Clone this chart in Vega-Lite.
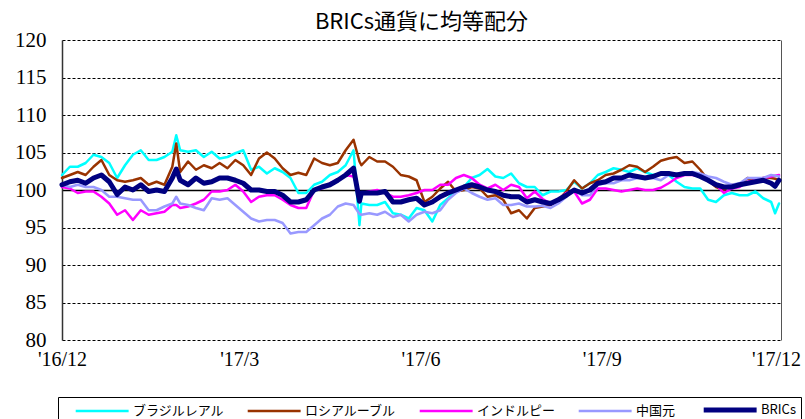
{
  "$schema": "https://vega.github.io/schema/vega-lite/v6.json",
  "width": 719,
  "height": 300,
  "autosize": {"type": "none"},
  "padding": {"left": 62, "top": 40, "right": 24, "bottom": 79},
  "background": "white",
  "title": {"text": "BRICs通貨に均等配分", "font": "Noto Sans CJK JP", "fontSize": 22, "fontWeight": "normal", "color": "black", "anchor": "middle", "offset": -5},
  "config": {"view": {"stroke": null}},
  "data": {"values": [
    {"d":"2016-12-01","ブラジルレアル":102.0,"ロシアルーブル":101.6,"インドルピー":100.4,"中国元":100.7,"BRICs":100.7},
    {"d":"2016-12-05","ブラジルレアル":103.1,"ロシアルーブル":102.0,"インドルピー":100.2,"中国元":100.4,"BRICs":101.1},
    {"d":"2016-12-09","ブラジルレアル":103.1,"ロシアルーブル":102.4,"インドルピー":99.6,"中国元":100.7,"BRICs":101.3},
    {"d":"2016-12-13","ブラジルレアル":103.6,"ロシアルーブル":102.0,"インドルピー":99.8,"中国元":100.4,"BRICs":100.9},
    {"d":"2016-12-17","ブラジルレアル":104.7,"ロシアルーブル":103.1,"インドルピー":99.8,"中国元":100.4,"BRICs":101.6},
    {"d":"2016-12-21","ブラジルレアル":104.4,"ロシアルーブル":104.0,"インドルピー":99.1,"中国元":100.0,"BRICs":102.0},
    {"d":"2016-12-25","ブラジルレアル":103.6,"ロシアルーブル":102.0,"インドルピー":98.2,"中国元":99.1,"BRICs":101.1},
    {"d":"2016-12-29","ブラジルレアル":101.6,"ロシアルーブル":101.3,"インドルピー":96.7,"中国元":99.1,"BRICs":99.4},
    {"d":"2017-01-02","ブラジルレアル":103.3,"ロシアルーブル":101.1,"インドルピー":97.3,"中国元":98.9,"BRICs":100.4},
    {"d":"2017-01-06","ブラジルレアル":104.7,"ロシアルーブル":101.3,"インドルピー":96.0,"中国元":98.7,"BRICs":100.0},
    {"d":"2017-01-10","ブラジルレアル":105.3,"ロシアルーブル":101.6,"インドルピー":97.3,"中国元":98.7,"BRICs":100.7},
    {"d":"2017-01-14","ブラジルレアル":104.0,"ロシアルーブル":100.7,"インドルピー":96.7,"中国元":97.3,"BRICs":99.8},
    {"d":"2017-01-18","ブラジルレアル":104.0,"ロシアルーブル":101.1,"インドルピー":96.9,"中国元":97.3,"BRICs":100.0},
    {"d":"2017-01-22","ブラジルレアル":104.4,"ロシアルーブル":100.7,"インドルピー":97.1,"中国元":97.8,"BRICs":99.8},
    {"d":"2017-01-26","ブラジルレアル":105.1,"ロシアルーブル":103.1,"インドルピー":98.0,"中国元":98.2,"BRICs":101.6},
    {"d":"2017-01-28","ブラジルレアル":107.3,"ロシアルーブル":106.2,"インドルピー":98.0,"中国元":99.1,"BRICs":102.8},
    {"d":"2017-01-30","ブラジルレアル":105.3,"ロシアルーブル":102.4,"インドルピー":97.6,"中国元":98.2,"BRICs":101.3},
    {"d":"2017-02-03","ブラジルレアル":105.1,"ロシアルーブル":103.8,"インドルピー":97.8,"中国元":98.0,"BRICs":100.7},
    {"d":"2017-02-07","ブラジルレアル":105.3,"ロシアルーブル":102.7,"インドルピー":98.2,"中国元":97.6,"BRICs":101.6},
    {"d":"2017-02-11","ブラジルレアル":104.4,"ロシアルーブル":103.3,"インドルピー":98.7,"中国元":97.3,"BRICs":100.9},
    {"d":"2017-02-15","ブラジルレアル":105.1,"ロシアルーブル":102.9,"インドルピー":99.8,"中国元":98.9,"BRICs":101.1},
    {"d":"2017-02-19","ブラジルレアル":104.2,"ロシアルーブル":103.6,"インドルピー":99.8,"中国元":98.7,"BRICs":101.6},
    {"d":"2017-02-23","ブラジルレアル":104.4,"ロシアルーブル":102.9,"インドルピー":100.0,"中国元":98.9,"BRICs":101.6},
    {"d":"2017-02-27","ブラジルレアル":104.9,"ロシアルーブル":104.0,"インドルピー":100.7,"中国元":98.0,"BRICs":101.3},
    {"d":"2017-03-03","ブラジルレアル":105.3,"ロシアルーブル":103.3,"インドルピー":99.8,"中国元":97.1,"BRICs":100.9},
    {"d":"2017-03-07","ブラジルレアル":102.7,"ロシアルーブル":102.0,"インドルピー":98.4,"中国元":96.2,"BRICs":100.0},
    {"d":"2017-03-11","ブラジルレアル":103.1,"ロシアルーブル":104.2,"インドルピー":99.1,"中国元":95.8,"BRICs":100.0},
    {"d":"2017-03-15","ブラジルレアル":102.2,"ロシアルーブル":105.0,"インドルピー":99.3,"中国元":96.0,"BRICs":99.8},
    {"d":"2017-03-19","ブラジルレアル":102.9,"ロシアルーブル":104.2,"インドルピー":99.3,"中国元":96.0,"BRICs":99.8},
    {"d":"2017-03-23","ブラジルレアル":102.4,"ロシアルーブル":102.9,"インドルピー":98.7,"中国元":95.6,"BRICs":99.3},
    {"d":"2017-03-27","ブラジルレアル":101.6,"ロシアルーブル":102.0,"インドルピー":98.0,"中国元":94.2,"BRICs":98.4},
    {"d":"2017-03-31","ブラジルレアル":99.6,"ロシアルーブル":102.3,"インドルピー":97.6,"中国元":94.4,"BRICs":98.4},
    {"d":"2017-04-04","ブラジルレアル":99.6,"ロシアルーブル":102.0,"インドルピー":97.6,"中国元":94.4,"BRICs":98.7},
    {"d":"2017-04-08","ブラジルレアル":100.7,"ロシアルーブル":104.2,"インドルピー":100.0,"中国元":95.3,"BRICs":100.0},
    {"d":"2017-04-12","ブラジルレアル":101.1,"ロシアルーブル":103.6,"インドルピー":100.2,"中国元":96.2,"BRICs":100.4},
    {"d":"2017-04-16","ブラジルレアル":102.0,"ロシアルーブル":103.3,"インドルピー":100.9,"中国元":96.7,"BRICs":100.7},
    {"d":"2017-04-20","ブラジルレアル":102.4,"ロシアルーブル":103.6,"インドルピー":101.3,"中国元":97.8,"BRICs":101.3},
    {"d":"2017-04-24","ブラジルレアル":103.3,"ロシアルーブル":105.3,"インドルピー":102.0,"中国元":98.2,"BRICs":102.0},
    {"d":"2017-04-28","ブラジルレアル":105.3,"ロシアルーブル":106.7,"インドルピー":101.8,"中国元":98.0,"BRICs":102.9},
    {"d":"2017-05-01","ブラジルレアル":95.3,"ロシアルーブル":103.8,"インドルピー":99.6,"中国元":96.8,"BRICs":98.5},
    {"d":"2017-05-02","ブラジルレアル":98.2,"ロシアルーブル":103.3,"インドルピー":99.6,"中国元":96.7,"BRICs":99.6},
    {"d":"2017-05-06","ブラジルレアル":98.0,"ロシアルーブル":104.4,"インドルピー":99.8,"中国元":96.9,"BRICs":99.6},
    {"d":"2017-05-10","ブラジルレアル":98.0,"ロシアルーブル":103.8,"インドルピー":100.0,"中国元":96.7,"BRICs":99.6},
    {"d":"2017-05-14","ブラジルレアル":98.4,"ロシアルーブル":103.8,"インドルピー":99.6,"中国元":97.1,"BRICs":99.8},
    {"d":"2017-05-18","ブラジルレアル":96.9,"ロシアルーブル":103.1,"インドルピー":99.1,"中国元":96.4,"BRICs":98.4},
    {"d":"2017-05-22","ブラジルレアル":96.7,"ロシアルーブル":102.0,"インドルピー":99.1,"中国元":96.7,"BRICs":98.4},
    {"d":"2017-05-26","ブラジルレアル":96.2,"ロシアルーブル":101.8,"インドルピー":99.3,"中国元":95.8,"BRICs":98.7},
    {"d":"2017-05-30","ブラジルレアル":97.6,"ロシアルーブル":101.3,"インドルピー":99.6,"中国元":96.7,"BRICs":98.9},
    {"d":"2017-06-03","ブラジルレアル":97.3,"ロシアルーブル":98.4,"インドルピー":100.0,"中国元":97.1,"BRICs":98.0},
    {"d":"2017-06-07","ブラジルレアル":95.8,"ロシアルーブル":99.1,"インドルピー":100.0,"中国元":96.9,"BRICs":98.4},
    {"d":"2017-06-11","ブラジルレアル":98.0,"ロシアルーブル":100.2,"インドルピー":100.7,"中国元":97.3,"BRICs":99.1},
    {"d":"2017-06-15","ブラジルレアル":98.9,"ロシアルーブル":101.1,"インドルピー":100.7,"中国元":98.7,"BRICs":99.6},
    {"d":"2017-06-19","ブラジルレアル":100.0,"ロシアルーブル":99.8,"インドルピー":101.6,"中国元":99.6,"BRICs":100.0},
    {"d":"2017-06-23","ブラジルレアル":100.4,"ロシアルーブル":100.0,"インドルピー":102.0,"中国元":100.2,"BRICs":100.4},
    {"d":"2017-06-27","ブラジルレアル":101.6,"ロシアルーブル":100.4,"インドルピー":101.6,"中国元":99.6,"BRICs":100.7},
    {"d":"2017-07-01","ブラジルレアル":102.0,"ロシアルーブル":100.2,"インドルピー":100.7,"中国元":99.1,"BRICs":100.4},
    {"d":"2017-07-05","ブラジルレアル":102.8,"ロシアルーブル":99.1,"インドルピー":100.2,"中国元":98.7,"BRICs":100.0},
    {"d":"2017-07-09","ブラジルレアル":101.8,"ロシアルーブル":99.3,"インドルピー":100.7,"中国元":98.9,"BRICs":99.8},
    {"d":"2017-07-13","ブラジルレアル":101.6,"ロシアルーブル":98.7,"インドルピー":100.0,"中国元":98.0,"BRICs":99.3},
    {"d":"2017-07-17","ブラジルレアル":102.2,"ロシアルーブル":96.9,"インドルピー":100.7,"中国元":98.0,"BRICs":99.1},
    {"d":"2017-07-21","ブラジルレアル":100.9,"ロシアルーブル":97.3,"インドルピー":100.4,"中国元":98.2,"BRICs":99.1},
    {"d":"2017-07-25","ブラジルレアル":100.4,"ロシアルーブル":96.2,"インドルピー":98.9,"中国元":97.8,"BRICs":98.4},
    {"d":"2017-07-29","ブラジルレアル":100.4,"ロシアルーブル":97.6,"インドルピー":99.8,"中国元":97.8,"BRICs":98.7},
    {"d":"2017-08-02","ブラジルレアル":99.3,"ロシアルーブル":97.8,"インドルピー":98.8,"中国元":97.9,"BRICs":98.4},
    {"d":"2017-08-06","ブラジルレアル":99.8,"ロシアルーブル":98.0,"インドルピー":98.2,"中国元":97.6,"BRICs":98.2},
    {"d":"2017-08-10","ブラジルレアル":99.8,"ロシアルーブル":98.7,"インドルピー":98.7,"中国元":98.2,"BRICs":98.7},
    {"d":"2017-08-14","ブラジルレアル":100.0,"ロシアルーブル":99.8,"インドルピー":99.6,"中国元":99.1,"BRICs":99.3},
    {"d":"2017-08-18","ブラジルレアル":101.1,"ロシアルーブル":101.3,"インドルピー":99.8,"中国元":100.0,"BRICs":100.0},
    {"d":"2017-08-22","ブラジルレアル":100.2,"ロシアルーブル":100.2,"インドルピー":98.2,"中国元":99.3,"BRICs":99.6},
    {"d":"2017-08-26","ブラジルレアル":100.9,"ロシアルーブル":100.9,"インドルピー":98.7,"中国元":99.3,"BRICs":100.0},
    {"d":"2017-08-30","ブラジルレアル":102.0,"ロシアルーブル":101.3,"インドルピー":100.2,"中国元":100.7,"BRICs":100.9},
    {"d":"2017-09-03","ブラジルレアル":102.4,"ロシアルーブル":102.0,"インドルピー":100.2,"中国元":100.9,"BRICs":101.1},
    {"d":"2017-09-07","ブラジルレアル":102.9,"ロシアルーブル":102.2,"インドルピー":100.0,"中国元":100.9,"BRICs":101.6},
    {"d":"2017-09-11","ブラジルレアル":102.7,"ロシアルーブル":102.7,"インドルピー":99.8,"中国元":101.3,"BRICs":101.6},
    {"d":"2017-09-15","ブラジルレアル":102.4,"ロシアルーブル":103.3,"インドルピー":100.0,"中国元":101.3,"BRICs":102.0},
    {"d":"2017-09-19","ブラジルレアル":102.9,"ロシアルーブル":103.1,"インドルピー":100.2,"中国元":101.6,"BRICs":101.8},
    {"d":"2017-09-23","ブラジルレアル":102.4,"ロシアルーブル":102.4,"インドルピー":100.0,"中国元":101.6,"BRICs":101.6},
    {"d":"2017-09-27","ブラジルレアル":102.0,"ロシアルーブル":103.1,"インドルピー":100.0,"中国元":101.6,"BRICs":101.8},
    {"d":"2017-10-01","ブラジルレアル":102.2,"ロシアルーブル":103.9,"インドルピー":100.3,"中国元":101.3,"BRICs":102.2},
    {"d":"2017-10-05","ブラジルレアル":102.0,"ロシアルーブル":104.2,"インドルピー":100.9,"中国元":102.0,"BRICs":102.2},
    {"d":"2017-10-09","ブラジルレアル":101.1,"ロシアルーブル":104.4,"インドルピー":101.6,"中国元":102.2,"BRICs":102.0},
    {"d":"2017-10-13","ブラジルレアル":100.4,"ロシアルーブル":103.6,"インドルピー":102.0,"中国元":102.2,"BRICs":102.2},
    {"d":"2017-10-17","ブラジルレアル":100.2,"ロシアルーブル":103.8,"インドルピー":102.0,"中国元":102.4,"BRICs":102.2},
    {"d":"2017-10-21","ブラジルレアル":100.2,"ロシアルーブル":102.7,"インドルピー":101.8,"中国元":102.2,"BRICs":101.8},
    {"d":"2017-10-25","ブラジルレアル":98.7,"ロシアルーブル":101.3,"インドルピー":101.3,"中国元":101.8,"BRICs":101.3},
    {"d":"2017-10-29","ブラジルレアル":98.4,"ロシアルーブル":100.4,"インドルピー":100.7,"中国元":101.6,"BRICs":100.7},
    {"d":"2017-11-02","ブラジルレアル":99.3,"ロシアルーブル":100.0,"インドルピー":99.6,"中国元":101.1,"BRICs":100.4},
    {"d":"2017-11-06","ブラジルレアル":99.6,"ロシアルーブル":100.7,"インドルピー":100.2,"中国元":100.7,"BRICs":100.4},
    {"d":"2017-11-10","ブラジルレアル":99.3,"ロシアルーブル":100.7,"インドルピー":100.4,"中国元":100.9,"BRICs":100.7},
    {"d":"2017-11-14","ブラジルレアル":99.3,"ロシアルーブル":101.6,"インドルピー":101.1,"中国元":101.6,"BRICs":100.9},
    {"d":"2017-11-18","ブラジルレアル":99.8,"ロシアルーブル":101.1,"インドルピー":101.3,"中国元":101.6,"BRICs":101.1},
    {"d":"2017-11-22","ブラジルレアル":98.9,"ロシアルーブル":101.6,"インドルピー":101.6,"中国元":101.6,"BRICs":101.3},
    {"d":"2017-11-26","ブラジルレアル":98.4,"ロシアルーブル":101.6,"インドルピー":101.8,"中国元":102.0,"BRICs":100.9},
    {"d":"2017-11-28","ブラジルレアル":96.9,"ロシアルーブル":101.5,"インドルピー":101.9,"中国元":101.9,"BRICs":100.5},
    {"d":"2017-11-30","ブラジルレアル":98.2,"ロシアルーブル":101.3,"インドルピー":102.0,"中国元":101.8,"BRICs":101.3}
  ]},
  "transform": [{"fold": ["ブラジルレアル", "ロシアルーブル", "インドルピー", "中国元", "BRICs"], "as": ["s", "v"]}],
  "mark": {"type": "line", "strokeJoin": "round", "strokeCap": "round"},
  "encoding": {
    "x": {
      "field": "d", "type": "temporal",
      "scale": {"type": "utc", "domain": [{"year": 2016, "month": 12, "date": 1, "utc": true}, {"year": 2017, "month": 12, "date": 1, "utc": true}]},
      "axis": {
        "values": [{"year": 2016, "month": 12, "date": 1, "utc": true}, {"year": 2017, "month": 3, "date": 1, "utc": true}, {"year": 2017, "month": 6, "date": 1, "utc": true}, {"year": 2017, "month": 9, "date": 1, "utc": true}, {"year": 2017, "month": 12, "date": 1, "utc": true}],
        "labelExpr": "utcFormat(datum.value, \"'%y/%-m\")",
        "title": null, "domain": false, "ticks": false,
        "grid": true, "gridWidth": 1,
        "gridColor": {"condition": {"test": "+datum.value >= 1512000000000", "value": "#555555"}, "value": "transparent"},
        "labelOffset": {"condition": {"test": "+datum.value >= 1512000000000", "value": -5}, "value": 0},
        "labelFlush": false, "labelOverlap": false, "labelBound": false,
        "labelFont": "Liberation Serif", "labelFontSize": 20, "labelColor": "black", "labelPadding": 9
      }
    },
    "y": {
      "field": "v", "type": "quantitative",
      "scale": {"domain": [80, 120], "nice": false, "zero": false},
      "axis": {
        "values": [80, 85, 90, 95, 100, 105, 110, 115, 120],
        "title": null, "grid": true, "gridColor": "black", "gridOpacity": 1,
        "gridDash": {"condition": {"test": "datum.value === 100", "value": []}, "value": [3, 2]},
        "gridWidth": {"condition": {"test": "datum.value === 100", "value": 1.3}, "value": 1},
        "domain": true, "domainColor": "#333333", "domainWidth": 1.5, "ticks": false,
        "labelFont": "Liberation Serif", "labelFontSize": 21, "labelColor": "black", "labelPadding": 16
      }
    },
    "color": {
      "field": "s", "type": "nominal",
      "scale": {"domain": ["ブラジルレアル", "ロシアルーブル", "インドルピー", "中国元", "BRICs"], "range": ["#00FFFF", "#993300", "#FF00FF", "#9999FF", "#000080"]},
      "legend": {
        "orient": "none", "legendX": -4, "legendY": 357, "direction": "horizontal", "columns": 5,
        "title": " ", "titleOrient": "left", "titlePadding": 10, "titleFontSize": 13,
        "padding": 5, "strokeColor": "black", "fillColor": "white",
        "symbolType": "M-1,0H9", "symbolSize": 112,
        "labelFont": "Noto Sans CJK JP", "labelFontSize": 13, "labelColor": "black", "labelOffset": 44, "columnPadding": 17
      }
    },
    "strokeWidth": {
      "field": "s", "type": "nominal",
      "scale": {"type": "ordinal", "domain": ["ブラジルレアル", "ロシアルーブル", "インドルピー", "中国元", "BRICs"], "range": [2.5, 2.5, 2.5, 2.5, 5]}
    }
  }
}
